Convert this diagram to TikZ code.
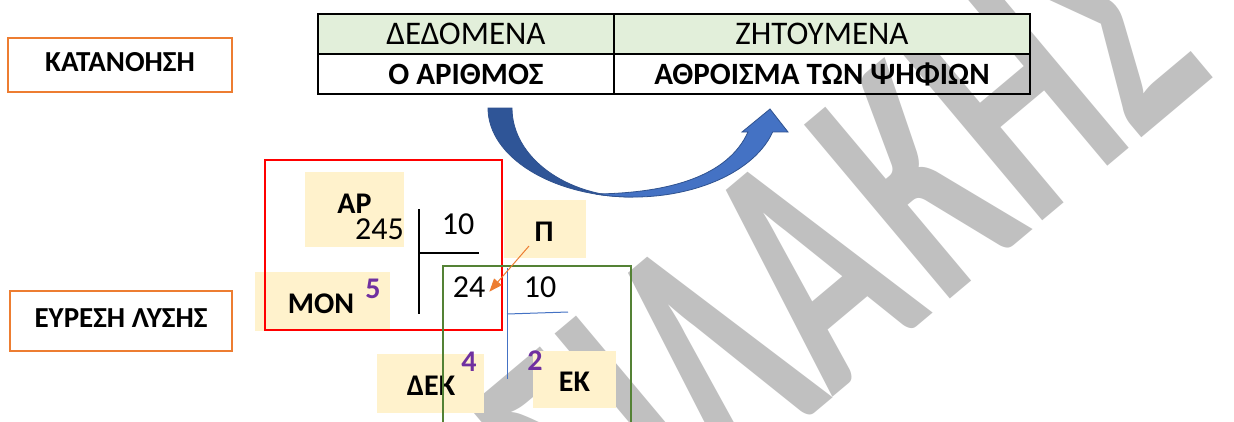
\documentclass[tikz,border=0pt]{standalone}
\usepackage{fontspec}
\usepackage{graphicx}
\setmainfont{Carlito}
\usetikzlibrary{arrows.meta}
\definecolor{orng}{HTML}{ED7D31}
\definecolor{hdrgreen}{HTML}{E2EFDA}
\definecolor{lblfill}{HTML}{FFF2CC}
\definecolor{purp}{HTML}{7030A0}
\definecolor{grn}{HTML}{548235}
\definecolor{bluel}{HTML}{4472C4}
\definecolor{blued}{HTML}{2F5597}
\definecolor{blueo}{HTML}{2F528F}
\definecolor{wmgray}{HTML}{C0C0C0}
\begin{document}
\begin{tikzpicture}[x=1pt,y=-1pt,
  stage/.style={draw=orng, line width=2pt, inner sep=0, text depth=6pt, font=\fontsize{29}{29}\selectfont\bfseries},
  hdr/.style={draw, line width=1.8pt, fill=hdrgreen, inner sep=0, minimum height=40, font=\fontsize{33}{33}\selectfont},
  cell/.style={draw, line width=1.8pt, inner sep=0, minimum height=40, font=\fontsize{31}{31}\selectfont\bfseries},
  lblbox/.style={fill=lblfill, inner sep=0},
  lbl/.style={font=\fontsize{30}{30}\selectfont\bfseries, inner sep=0, anchor=base},
  num/.style={font=\fontsize{32}{32}\selectfont, inner sep=0, anchor=base},
  dig/.style={font=\fontsize{30}{30}\selectfont\bfseries, text=purp, inner sep=0, anchor=base},
  wmark/.style={text=wmgray, font=\fontsize{350}{350}\selectfont\bfseries, inner sep=0},
  divline/.style={line width=1.2pt},
  bdivline/.style={bluel, line width=1pt}
]
\useasboundingbox (0,0) rectangle (1234,421);
\clip (0,0) rectangle (1234,421);
\fill[white] (0,0) rectangle (1234,421);

% watermark
\node[wmark, rotate=40, anchor=base] (wm) at (818,410) {\scalebox{0.62}[1]{ΒΑΣΙΛΑ\kern 20pt ΚΗΣ}};

% stage boxes
\node[stage, minimum width=224, minimum height=54] (kat) at (120,65) {ΚΑΤΑΝΟΗΣΗ};
\node[stage, minimum width=222, minimum height=60] (eur) at (121,321) {ΕΥΡΕΣΗ ΛΥΣΗΣ};

% table
\node[hdr, minimum width=296] (d1) at (466,34) {ΔΕΔΟΜΕΝΑ};
\node[hdr, minimum width=416] (d2) at (822,34) {ΖΗΤΟΥΜΕΝΑ};
\node[cell, minimum width=296] (d3) at (466,74) {Ο ΑΡΙΘΜΟΣ};
\node[cell, minimum width=416] (d4) at (822,74) {ΑΘΡΟΙΣΜΑ ΤΩΝ ΨΗΦΙΩΝ};

% curved arrow
\filldraw[fill=blued, draw=blueo, line width=0.8pt]
  (488,108) arc[start angle=180, end angle=90, x radius=145, y radius=89]
  arc[start angle=90, end angle=180, x radius=121, y radius=89] -- cycle;
\filldraw[fill=bluel, draw=blueo, line width=0.8pt]
  (595.5,194) arc[start angle=105, end angle=15.6, x radius=145, y radius=89]
  -- (788,132) -- (770,109) -- (742,132) -- (748,132)
  .. controls (728,176) and (670,193) .. (595.5,194) -- cycle;

% label boxes
\node[lblbox, minimum width=99, minimum height=75] (apbox) at (354.5,209.5) {};
\node[lblbox, minimum width=135, minimum height=59] (monbox) at (322.5,301.5) {};
\node[lblbox, minimum width=82, minimum height=58] (pbox) at (545,229) {};
\node[lblbox, minimum width=107, minimum height=59] (dekbox) at (430.5,383.5) {};
\node[lblbox, minimum width=83, minimum height=57] (ekbox) at (574.5,379.5) {};

\node[lbl] (ap) at (354.5,213) {ΑΡ};
\node[lbl] (mon) at (321,313) {ΜΟΝ};
\node[lbl] (pi) at (544,241) {Π};
\node[lbl] (dek) at (431,395) {ΔΕΚ};
\node[lbl] (ek) at (574.5,391) {ΕΚ};

% numbers
\node[num] (n245) at (379.5,239) {245};
\node[num] (n10a) at (458,234) {10};
\node[num] (n24) at (469,297) {24};
\node[num] (n10b) at (540,297) {10};

\node[dig] (d5) at (373,298) {5};
\node[dig] (d4g) at (469,371) {4};
\node[dig] (d2g) at (535,370) {2};

% division lines
\draw[divline] (419,209) -- (419,314);
\draw[divline] (419,253) -- (479,253);
\draw[bdivline] (507,268) -- (507,379);
\draw[bdivline] (507,314) -- (568,312);

% frames
\draw[red, line width=2.6pt] (265,160) rectangle (502,330);
\draw[grn, line width=2.2pt] (443,430) |- (631,266) -- (631,430);

% orange arrow
\coordinate (pstart) at (529,246);
\draw[orng, line width=1pt, -{Triangle[length=13pt,width=10pt]}] (pstart) -- ([xshift=4pt,yshift=-5pt]n24.east);
\end{tikzpicture}
\end{document}
